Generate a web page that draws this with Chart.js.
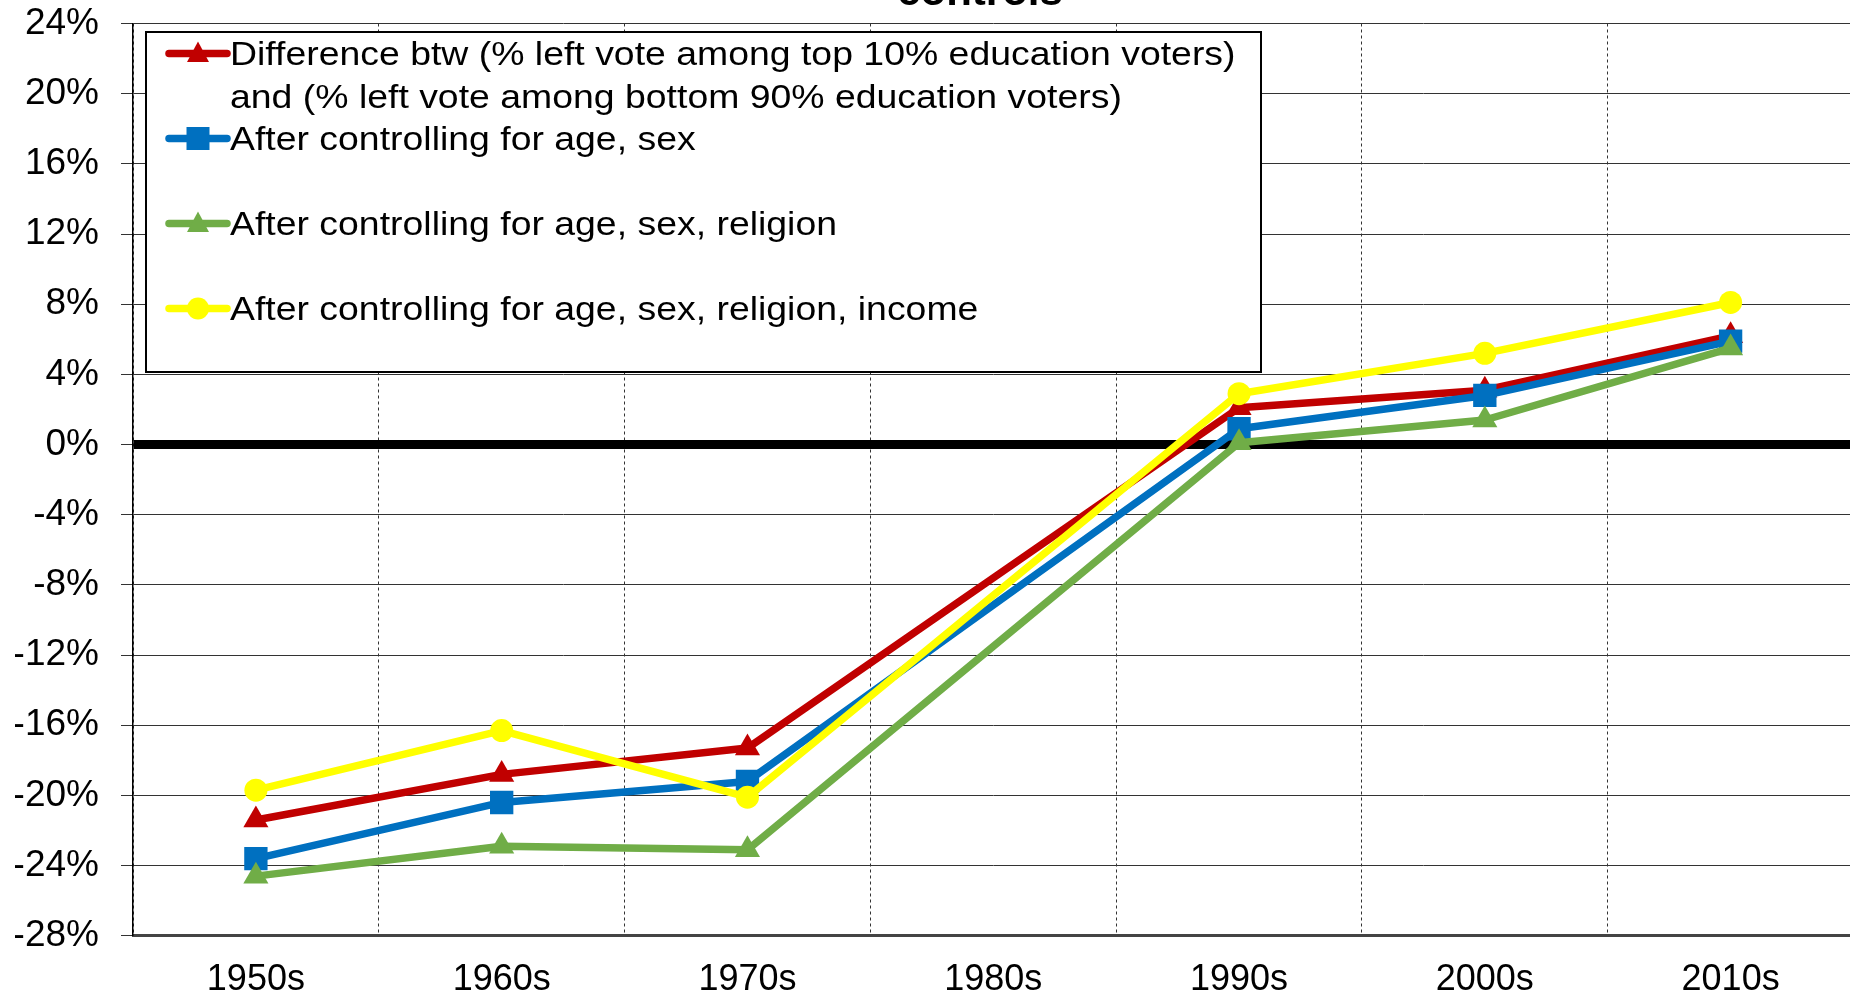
<!DOCTYPE html>
<html>
<head>
<meta charset="utf-8">
<title>Left vote by education</title>
<script src="https://cdn.jsdelivr.net/npm/chart.js@4.4.1/dist/chart.umd.min.js"></script>
<style>
  html, body { margin: 0; padding: 0; background: #fff; overflow: hidden; }
  #wrap { position: relative; width: 1850px; height: 998px; overflow: hidden; }
  #chart { position: absolute; left: 0; top: 0; }
</style>
</head>
<body>
<div id="wrap"><canvas id="chart" width="1870" height="1025"></canvas></div>
<script>
const decades = ['1950s', '1960s', '1970s', '1980s', '1990s', '2000s', '2010s'];

// no survey for the 1980s, the lines just skip over it
const diffRaw      = [-21.4, -18.8, -17.3, null, 2.1, 3.1, 6.2];
const ctrlAgeSex   = [-23.6, -20.4, -19.2, null, 0.9, 2.8, 5.9];
const ctrlReligion = [-24.6, -22.9, -23.1, null, 0.1, 1.4, 5.5];
const ctrlIncome   = [-19.7, -16.3, -20.1, null, 2.9, 5.2, 8.1];

const yTicks = [-28, -24, -20, -16, -12, -8, -4, 0, 4, 8, 12, 16, 20, 24];

const legendLabels = [
  ['Difference btw (% left vote among top 10% education voters)',
   'and (% left vote among bottom 90% education voters)'],
  ['After controlling for age, sex'],
  ['After controlling for age, sex, religion'],
  ['After controlling for age, sex, religion, income']
];
const titleText = 'controls';

const FONT = '"Liberation Sans", Arial, Helvetica, sans-serif';
Chart.defaults.font.family = FONT;
Chart.defaults.color = '#000';

function series(label, data, color, pointStyle, radius, order) {
  return {
    label: label,
    data: data,
    order: order,
    borderColor: color,
    backgroundColor: color,
    borderWidth: 7.5,
    borderJoinStyle: 'round',
    borderCapStyle: 'round',
    tension: 0,
    spanGaps: true,
    pointStyle: pointStyle,
    pointRadius: radius,
    pointHoverRadius: radius,
    pointBackgroundColor: color,
    pointBorderColor: color,
    pointBorderWidth: 0
  };
}

function drawMarker(ctx, style, x, y, color) {
  ctx.fillStyle = color;
  ctx.beginPath();
  if (style === 'circle') {
    ctx.arc(x, y, 11, 0, Math.PI * 2);
  } else if (style === 'rect') {
    ctx.rect(x - 11.5, y - 11.5, 23, 23);
  } else {
    ctx.moveTo(x, y - 12);
    ctx.lineTo(x + 11, y + 8.5);
    ctx.lineTo(x - 11, y + 8.5);
    ctx.closePath();
  }
  ctx.fill();
}

// legend in a white box sitting inside the plot, top left
const boxLegend = {
  id: 'boxLegend',
  afterDatasetsDraw(chart) {
    const ctx = chart.ctx;
    const area = chart.chartArea;
    const left = area.left + 13;
    const top = area.top + 8.5;
    ctx.save();
    ctx.fillStyle = '#fff';
    ctx.fillRect(left, top, 1115, 340);
    ctx.lineWidth = 2;
    ctx.strokeStyle = '#000';
    ctx.strokeRect(left, top, 1115, 340);

    chart.data.datasets.forEach((ds, i) => {
      const base = top + 33 + i * 85;
      const my = base - 11.5;
      ctx.strokeStyle = ds.borderColor;
      ctx.lineWidth = 7.5;
      ctx.lineCap = 'round';
      ctx.beginPath();
      ctx.moveTo(left + 23, my);
      ctx.lineTo(left + 81, my);
      ctx.stroke();
      drawMarker(ctx, ds.pointStyle, left + 52, my, ds.borderColor);

      ctx.fillStyle = '#000';
      ctx.font = '34px ' + FONT;
      ctx.textBaseline = 'alphabetic';
      ctx.textAlign = 'left';
      legendLabels[i].forEach((line, j) => {
        ctx.save();
        ctx.translate(left + 84, base + j * 42.5);
        ctx.scale(1.1, 1);
        ctx.fillText(line, 0, 0);
        ctx.restore();
      });
    });
    ctx.restore();
  },
  afterDraw(chart) {
    // last line of the heading, mostly above the top edge
    const ctx = chart.ctx;
    ctx.save();
    ctx.font = 'bold 42px ' + FONT;
    ctx.fillStyle = '#000';
    ctx.textAlign = 'center';
    ctx.textBaseline = 'alphabetic';
    ctx.fillText(titleText, 980, 5);
    ctx.restore();
  }
};

new Chart(document.getElementById('chart'), {
  type: 'line',
  data: {
    labels: decades,
    datasets: [
      series('Difference', diffRaw, '#C00000', 'triangle', 14.5, 3),
      series('Age, sex', ctrlAgeSex, '#0070C0', 'rect', 16.5, 2),
      series('Age, sex, religion', ctrlReligion, '#70AD47', 'triangle', 14.5, 1),
      series('Age, sex, religion, income', ctrlIncome, '#FFFF00', 'circle', 11.5, 0)
    ]
  },
  options: {
    responsive: false,
    animation: false,
    events: [],
    layout: { padding: { left: 15, right: 14, top: 23.5, bottom: 0 } },
    plugins: {
      legend: { display: false },
      tooltip: { enabled: false }
    },
    scales: {
      x: {
        offset: true,
        grid: { offset: true, color: '#333', lineWidth: 1, drawTicks: false },
        border: { display: true, color: '#444', width: 3, dash: [3, 3] },
        ticks: { font: { size: 36 }, color: '#000', padding: 23, maxRotation: 0, autoSkip: false }
      },
      y: {
        min: yTicks[0],
        max: yTicks[yTicks.length - 1],
        afterBuildTicks: scale => { scale.ticks = yTicks.map(v => ({ value: v })); },
        afterFit: scale => {
          scale.width = 118;
          scale.paddingTop = 0;
        },
        grid: {
          color: c => (c.tick && c.tick.value === 0 ? '#000' : '#333'),
          lineWidth: c => (c.tick && c.tick.value === 0 ? 9 : 1),
          tickLength: 12,
          tickColor: '#333',
          tickWidth: 1
        },
        border: { display: true, color: '#000', width: 1.5 },
        ticks: { font: { size: 37 }, color: '#000', padding: 22, callback: v => v + '%' }
      }
    }
  },
  plugins: [boxLegend]
});
</script>
</body>
</html>
